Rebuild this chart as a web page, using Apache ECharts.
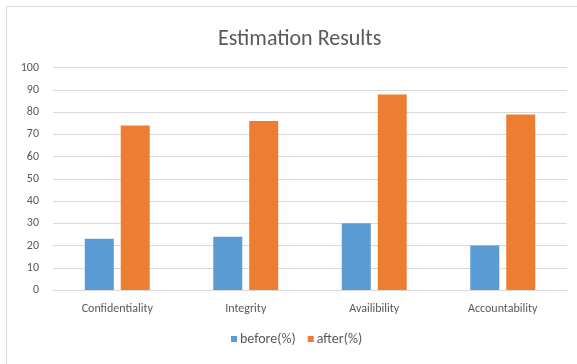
<!DOCTYPE html>
<html><head><meta charset="utf-8">
<script src="https://cdn.jsdelivr.net/npm/echarts@6/dist/echarts.min.js"></script>
<style>html,body{margin:0;padding:0;background:#fff}#c{width:577px;height:364px}</style>
</head><body><div id="c"></div>
<script>
const categories = ["Confidentiality", "Integrity", "Availibility", "Accountability"];
const beforeValues = [23, 24, 30, 20];
const afterValues = [74, 76, 88, 79];
const yTicks = [0, 100, 10];
const seriesNames = ["before(%)", "after(%)"];

const chart = echarts.init(document.getElementById('c'), null, {renderer: 'canvas'});
const font = 'Calibri, Carlito, "Open Sans", sans-serif';
chart.setOption({
  animation: false,
  backgroundColor: '#fff',
  graphic: [{type: 'rect', shape: {x: 6.5, y: 6.5, width: 580, height: 370}, style: {fill: 'none', stroke: '#d9d9d9', lineWidth: 1}, silent: true}],
  title: {text: 'Estimation Results', left: 213, top: 23, textStyle: {fontFamily: font, fontWeight: 'normal', fontSize: 22, color: '#595959'}},
  legend: {bottom: 13, left: 226, itemWidth: 6, itemHeight: 6, itemGap: 12, icon: 'rect',
    textStyle: {fontFamily: font, fontSize: 14, color: '#595959', padding: [0, 0, 0, -2]}, data: seriesNames},
  grid: {left: 53, right: 10, top: 67.7, bottom: 74, containLabel: false},
  xAxis: {type: 'category', data: categories,
    axisLine: {lineStyle: {color: '#d9d9d9'}}, axisTick: {show: false},
    axisLabel: {fontFamily: font, fontSize: 12, color: '#595959', margin: 13}},
  yAxis: {type: 'value', min: yTicks[0], max: yTicks[1], interval: yTicks[2],
    axisLine: {show: false}, axisTick: {show: false},
    splitLine: {lineStyle: {color: '#d9d9d9'}},
    axisLabel: {fontFamily: font, fontSize: 12, color: '#595959', margin: 14}},
  series: [
    {name: seriesNames[0], type: 'bar', data: beforeValues, barWidth: 29, barGap: '24%', itemStyle: {color: '#5B9BD5'}},
    {name: seriesNames[1], type: 'bar', data: afterValues, barWidth: 29, itemStyle: {color: '#ED7D31'}}
  ]
});
</script></body></html>
